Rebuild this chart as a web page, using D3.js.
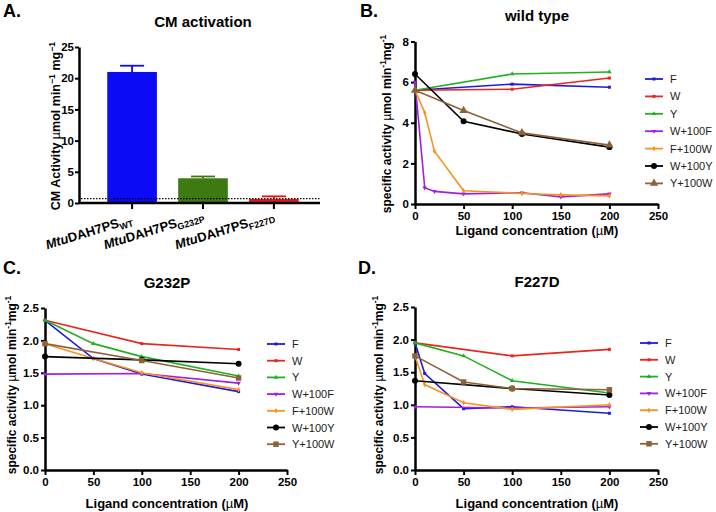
<!DOCTYPE html>
<html><head><meta charset="utf-8">
<script src="https://cdn.jsdelivr.net/npm/d3@7"></script>
<style>body{margin:0;background:#fff}svg{font-family:"Liberation Sans",Arial,sans-serif}</style>
</head><body>
<script>
// ---------- DATA ----------
const barCats = ["WT", "G232P", "F227D"];
const barVals = [21.0, 3.96, 0.64];
const barErrTop = [22.0, 4.25, 1.07];
const barColors = ["#0b0bf5", "#3d7a12", "#e8161a"];
const barThreshold = 0.7;
const barTicks = [0, 5, 10, 15, 20, 25];

const seriesNames = ["F", "W", "Y", "W+100F", "F+100W", "W+100Y", "Y+100W"];
const seriesColors = ["#1c1cdc", "#e8261f", "#22b022", "#a020e0", "#f7931e", "#000000", "#8c6239"];
const xTicks = [0, 50, 100, 150, 200, 250];

// wild type: one array of [ligand µM, activity] per series
const wtData = [
  [[0, 5.6], [100, 5.9], [200, 5.75]],
  [[0, 5.6], [100, 5.65], [200, 6.2]],
  [[0, 5.6], [100, 6.4], [200, 6.5]],
  [[0, 6.0], [10, 0.8], [20, 0.62], [50, 0.5], [110, 0.55], [150, 0.35], [200, 0.5]],
  [[0, 5.6], [10, 4.5], [20, 2.6], [50, 0.65], [110, 0.52], [150, 0.45], [200, 0.4]],
  [[0, 6.4], [50, 4.07], [110, 3.45], [200, 2.8]],
  [[0, 5.6], [50, 4.6], [110, 3.5], [200, 2.9]]
];
const wtTicks = [0, 2, 4, 6, 8];

const g232pData = [
  [[0, 2.31], [50, 1.72], [100, 1.48], [200, 1.21]],
  [[0, 2.31], [100, 1.95], [200, 1.86]],
  [[0, 2.31], [50, 1.95], [100, 1.75], [200, 1.45]],
  [[0, 1.48], [100, 1.49], [200, 1.34]],
  [[0, 1.95], [50, 1.72], [100, 1.5], [200, 1.24]],
  [[0, 1.75], [100, 1.7], [200, 1.64]],
  [[0, 1.95], [100, 1.69], [200, 1.42]]
];
const f227dData = [
  [[0, 1.95], [10, 1.48], [50, 0.94], [100, 0.97], [200, 0.87]],
  [[0, 1.95], [100, 1.75], [200, 1.85]],
  [[0, 1.95], [50, 1.75], [100, 1.37], [200, 1.18]],
  [[0, 0.97], [100, 0.95], [200, 0.97]],
  [[0, 1.75], [10, 1.31], [50, 1.03], [100, 0.93], [200, 1.0]],
  [[0, 1.37], [100, 1.25], [200, 1.15]],
  [[0, 1.75], [50, 1.35], [100, 1.25], [200, 1.23]]
];
const mutTicks = [0, 0.5, 1.0, 1.5, 2.0, 2.5];

// ---------- DRAW ----------
const svg = d3.select("body").append("svg").attr("width", 716).attr("height", 512);

function styleAxis(g) {
  g.select(".domain").attr("stroke", "#000").attr("stroke-width", 2.5);
  g.selectAll(".tick line").attr("stroke", "#000").attr("stroke-width", 2);
  g.selectAll(".tick text").attr("font-size", 11.5).attr("font-weight", "bold").attr("fill", "#000")
    .attr("font-family", "Liberation Sans, Arial, sans-serif");
}

function panelLetter(t, x, y) {
  svg.append("text").attr("x", x).attr("y", y).attr("font-size", 18).attr("font-weight", "bold").text(t);
}
function title(t, x, y) {
  svg.append("text").attr("x", x).attr("y", y).attr("text-anchor", "middle")
    .attr("font-size", 15).attr("font-weight", "bold").text(t);
}
function yLabel(parts, x, y, size) {
  const t = svg.append("text").attr("transform", `translate(${x},${y}) rotate(-90)`)
    .attr("text-anchor", "middle").attr("font-size", size).attr("font-weight", "bold");
  parts.forEach(p => {
    const s = t.append("tspan").text(p.t);
    if (p.sup) s.attr("font-size", size * 0.7).attr("dy", -size * 0.4);
    if (p.down) s.attr("dy", size * 0.4);
    if (p.light) s.attr("font-weight", "normal");
  });
}

const symbolsMain = [d3.symbolSquare, d3.symbolSquare, d3.symbolTriangle, d3.symbolTriangle, d3.symbolDiamond, d3.symbolCircle, d3.symbolTriangle];
function symSize(i) { return i === 5 ? 28 : (i === 6 ? 30 : 9); }

function linePanel(data, yTicks, yDomain, xRange, yRange, legendX, legendY0, legendStep, brownSym) {
  const x = d3.scaleLinear().domain([0, 250]).range(xRange);
  const y = d3.scaleLinear().domain(yDomain).range(yRange);
  const fmt = yDomain[1] < 5 ? d3.format(".1f") : d3.format("d");
  svg.append("g").attr("transform", `translate(0,${yRange[0]})`)
    .call(d3.axisBottom(x).tickValues(xTicks).tickSize(5).tickSizeOuter(0).tickPadding(3)).call(styleAxis);
  svg.append("g").attr("transform", `translate(${xRange[0]},0)`)
    .call(d3.axisLeft(y).tickValues(yTicks).tickFormat(fmt).tickSize(4).tickSizeOuter(0).tickPadding(2)).call(styleAxis);
  const line = d3.line().x(d => x(d[0])).y(d => y(d[1]));
  data.forEach((s, i) => {
    svg.append("path").datum(s).attr("d", line).attr("fill", "none")
      .attr("stroke", seriesColors[i]).attr("stroke-width", 1.6);
    const sym = (i === 6) ? brownSym : symbolsMain[i];
    const rot = i === 3 ? 180 : 0;
    svg.selectAll(null).data(s).join("path")
      .attr("transform", d => `translate(${x(d[0])},${y(d[1])}) rotate(${rot})`)
      .attr("d", d3.symbol().type(sym).size(symSize(i)))
      .attr("fill", seriesColors[i]);
    // legend
    const ly = legendY0 + i * legendStep;
    svg.append("line").attr("x1", legendX).attr("x2", legendX + 18).attr("y1", ly).attr("y2", ly)
      .attr("stroke", seriesColors[i]).attr("stroke-width", 1.8);
    svg.append("path").attr("transform", `translate(${legendX + 9},${ly}) rotate(${rot})`)
      .attr("d", d3.symbol().type(sym).size(symSize(i))).attr("fill", seriesColors[i]);
    svg.append("text").attr("x", legendX + 25).attr("y", ly + 4).attr("font-size", 11)
      .attr("fill", "#222").text(seriesNames[i]);
  });
}

const yLab = [{t: "specific activity "}, {t: "µ", light: true}, {t: "mol min"}, {t: "-1", sup: true}, {t: "mg", down: true}, {t: "-1", sup: true}];

// ----- Panel A -----
panelLetter("A.", 3, 17);
title("CM activation", 203, 27);
const xa = d3.scaleBand().domain(barCats).range([86, 320]).paddingInner(0.3).paddingOuter(0.3);
const ya = d3.scaleLinear().domain([0, 25]).range([203, 47]);
svg.selectAll(".bar").data(barCats).join("rect")
  .attr("x", d => xa(d)).attr("width", xa.bandwidth())
  .attr("y", (d, i) => ya(barVals[i])).attr("height", (d, i) => ya(0) - ya(barVals[i]))
  .attr("fill", (d, i) => barColors[i]);
barCats.forEach((c, i) => {
  const cx = xa(c) + xa.bandwidth() / 2;
  svg.append("line").attr("x1", cx).attr("x2", cx).attr("y1", ya(barVals[i])).attr("y2", ya(barErrTop[i]))
    .attr("stroke", barColors[i]).attr("stroke-width", 1.8);
  svg.append("line").attr("x1", cx - 12).attr("x2", cx + 12).attr("y1", ya(barErrTop[i])).attr("y2", ya(barErrTop[i]))
    .attr("stroke", barColors[i]).attr("stroke-width", 1.8);
});
svg.append("line").attr("x1", 81).attr("x2", 320).attr("y1", ya(barThreshold)).attr("y2", ya(barThreshold))
  .attr("stroke", "#000").attr("stroke-width", 1.2).attr("stroke-dasharray", "1.5,1.5");
const gxa = svg.append("g").attr("transform", `translate(0,203)`)
  .call(d3.axisBottom(xa).tickSize(6).tickSizeOuter(0).tickFormat("")).call(styleAxis);
gxa.select(".domain").attr("d", "M79,0H320");
svg.append("g").attr("transform", `translate(79,0)`)
  .call(d3.axisLeft(ya).tickValues(barTicks).tickSize(4).tickSizeOuter(0).tickPadding(1)).call(styleAxis);
barCats.forEach(c => {
  const cx = xa(c) + xa.bandwidth() / 2;
  const g = svg.append("g");
  const t = g.append("text").attr("transform", `rotate(-17)`)
    .attr("text-anchor", "end").attr("font-size", 13).attr("font-weight", "bold");
  t.append("tspan").attr("font-style", "italic").text("Mtu");
  t.append("tspan").text("DAH7PS");
  t.append("tspan").attr("font-size", 9).attr("dy", 3).text(c);
  // place so the rotated label's box ends at the tick and sits below the axis
  const bb = g.node().getBBox();
  g.attr("transform", `translate(${cx + 3 - (bb.x + bb.width)},${254 - (bb.y + bb.height)})`);
});
yLabel([{t: "CM Activity "}, {t: "µ", light: true}, {t: "mol min"}, {t: "−1", sup: true}, {t: " mg", down: true}, {t: "−1", sup: true}], 60, 126, 12.5);

// ----- Panel B -----
panelLetter("B.", 360, 17);
title("wild type", 537, 21);
linePanel(wtData, wtTicks, [0, 8], [415, 658], [204, 41.5], 645, 79, 17.4, d3.symbolTriangle);
yLabel(yLab, 391, 124, 12);
svg.append("text").attr("x", 537).attr("y", 235).attr("text-anchor", "middle").attr("font-size", 13)
  .attr("font-weight", "bold").html('Ligand concentration (<tspan font-weight="normal">µ</tspan>M)');

// ----- Panel C -----
panelLetter("C.", 3, 274);
title("G232P", 167, 288);
linePanel(g232pData, mutTicks, [0, 2.5], [45, 287], [470, 308], 267, 344, 16.7, d3.symbolSquare);
yLabel(yLab, 16, 385, 12);
svg.append("text").attr("x", 167).attr("y", 508).attr("text-anchor", "middle").attr("font-size", 13)
  .attr("font-weight", "bold").html('Ligand concentration (<tspan font-weight="normal">µ</tspan>M)');

// ----- Panel D -----
panelLetter("D.", 358, 274);
title("F227D", 537, 287);
linePanel(f227dData, mutTicks, [0, 2.5], [415, 658], [470, 307], 640, 343, 16.8, d3.symbolSquare);
yLabel(yLab, 383, 385, 12);
svg.append("text").attr("x", 537).attr("y", 508).attr("text-anchor", "middle").attr("font-size", 13)
  .attr("font-weight", "bold").html('Ligand concentration (<tspan font-weight="normal">µ</tspan>M)');
</script>
</body></html>
